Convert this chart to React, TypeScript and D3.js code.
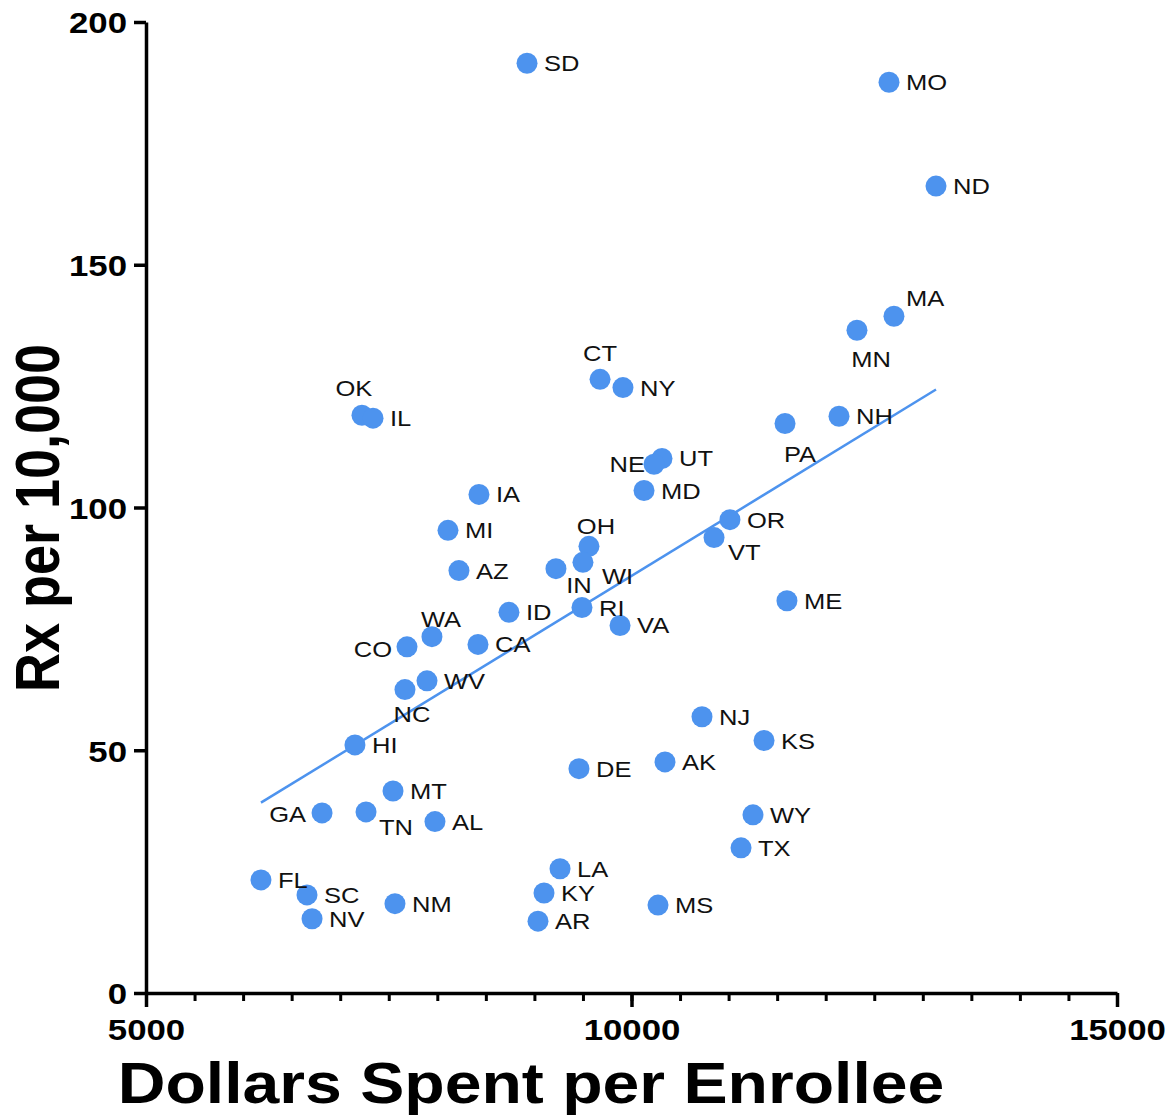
import * as d3 from 'd3'
import { useEffect, useRef } from 'react'

const width = 1167
const height = 1120

// values
const states = ['SD', 'MO', 'ND', 'MA', 'MN', 'OK', 'IL', 'CT', 'NY', 'NH', 'PA', 'UT', 'NE', 'MD', 'IA', 'MI', 'OR', 'VT', 'OH', 'WI', 'IN', 'AZ', 'ID', 'RI', 'VA', 'ME', 'WA', 'CO', 'CA', 'WV', 'NC', 'HI', 'NJ', 'KS', 'DE', 'AK', 'MT', 'GA', 'TN', 'AL', 'WY', 'TX', 'LA', 'FL', 'SC', 'KY', 'NM', 'MS', 'NV', 'AR']
const spending = [8924, 12652, 13136, 12703, 12322, 7224, 7338, 9676, 9912, 12137, 11581, 10314, 10232, 10129, 8429, 8110, 11014, 10850, 9562, 9500, 9222, 8223, 8738, 9490, 9882, 11601, 7945, 7688, 8419, 7894, 7667, 7152, 10726, 11365, 9459, 10345, 7544, 6813, 7266, 7976, 11251, 11128, 9264, 6184, 6658, 9099, 7564, 10273, 6710, 9037]
const rxRate = [191.5, 187.6, 166.2, 139.4, 136.5, 119.0, 118.4, 126.4, 124.7, 118.8, 117.3, 110.1, 108.9, 103.5, 102.7, 95.3, 97.5, 93.8, 92.0, 88.7, 87.4, 87.0, 78.4, 79.4, 75.7, 80.8, 73.4, 71.3, 71.8, 64.3, 62.5, 51.1, 56.9, 52.0, 46.2, 47.6, 41.6, 37.1, 37.3, 35.3, 36.7, 29.9, 25.6, 23.3, 20.2, 20.6, 18.4, 18.1, 15.3, 14.8]

// fitted line end points
const fitSpending = [6184, 13136]
const fitRx = [39.2, 124.3]

const xTicks = [5000, 10000, 15000]
const yTicks = [0, 50, 100, 150, 200]

// label placement: [dx, dy, anchor]; default is to the right
const labelPlacement: Record<string, [number, number, string]> = {
  OK: [-8, -19, 'middle'],
  CT: [0, -18, 'middle'],
  NE: [-9, 8, 'end'],
  MN: [14, 37, 'middle'],
  MA: [12, -10, 'start'],
  PA: [15, 38, 'middle'],
  OH: [7, -12, 'middle'],
  IN: [23, 24, 'middle'],
  WI: [19, 22, 'start'],
  VT: [14, 22, 'start'],
  WA: [9, -10, 'middle'],
  CO: [-15, 10, 'end'],
  NC: [7, 32, 'middle'],
  GA: [-16, 9, 'end'],
  TN: [13, 23, 'start'],
}

const stretch = 1.16
const font = '"Liberation Sans", Arial, Helvetica, sans-serif'
const blue = '#4d93ee'

export default function App() {
  const ref = useRef(null)

  useEffect(() => {
    const svg = d3.select(ref.current)
    svg.selectAll('*').remove()

    const x = d3.scaleLinear([5000, 15000], [146, 1117])
    const y = d3.scaleLinear([0, 200], [993, 22])

    // minor x ticks
    svg
      .append('g')
      .attr('transform', `translate(0,${y(0)})`)
      .call(
        d3
          .axisBottom(x)
          .tickValues(d3.range(5000, 15001, 500))
          .tickSize(8)
          .tickFormat(() => '')
      )
      .call(g => g.select('.domain').remove())
      .call(g => g.selectAll('.tick line').attr('stroke', '#000').attr('stroke-width', 3))

    // x axis
    svg
      .append('g')
      .attr('transform', `translate(0,${y(0)})`)
      .call(d3.axisBottom(x).tickValues(xTicks).tickSize(14).tickSizeOuter(0).tickFormat(d3.format('d')))
      .call(g => g.select('.domain').attr('stroke', '#000').attr('stroke-width', 3.5))
      .call(g => g.selectAll('.tick line').attr('stroke', '#000').attr('stroke-width', 3.5))
      .call(g =>
        g
          .selectAll('.tick text')
          .attr('y', 0)
          .attr('dy', null)
          .attr('transform', `translate(0,47) scale(${stretch},1)`)
          .attr('fill', '#000')
          .style('font', `bold 30px ${font}`)
      )

    // y axis
    svg
      .append('g')
      .attr('transform', `translate(${x(5000)},0)`)
      .call(d3.axisLeft(y).tickValues(yTicks).tickSize(12).tickSizeOuter(0))
      .call(g => g.select('.domain').attr('stroke', '#000').attr('stroke-width', 3.5))
      .call(g => g.selectAll('.tick line').attr('stroke', '#000').attr('stroke-width', 3.5))
      .call(g =>
        g
          .selectAll('.tick text')
          .attr('x', 0)
          .attr('dy', '0.36em')
          .attr('transform', `translate(-19,0) scale(${stretch},1)`)
          .attr('fill', '#000')
          .style('font', `bold 30px ${font}`)
      )

    // axis titles
    svg
      .append('text')
      .attr('transform', `translate(531,1103) scale(${stretch},1)`)
      .attr('text-anchor', 'middle')
      .style('font', `bold 57px ${font}`)
      .text('Dollars Spent per Enrollee')

    svg
      .append('text')
      .attr('transform', `translate(59,518) scale(${stretch},1) rotate(-90)`)
      .attr('text-anchor', 'middle')
      .style('font', `bold 54px ${font}`)
      .text('Rx per 10,000')

    // fitted line
    const line = d3
      .line<number>()
      .x(i => x(fitSpending[i]))
      .y(i => y(fitRx[i]))
    svg
      .append('path')
      .attr('fill', 'none')
      .attr('stroke', blue)
      .attr('stroke-width', 2.5)
      .attr('d', line([0, 1]))

    const idx = d3.range(states.length)

    // points
    svg
      .append('g')
      .selectAll('circle')
      .data(idx)
      .join('circle')
      .attr('cx', i => x(spending[i]))
      .attr('cy', i => y(rxRate[i]))
      .attr('r', 10.5)
      .attr('fill', blue)

    // labels
    svg
      .append('g')
      .selectAll('text')
      .data(idx)
      .join('text')
      .attr('transform', i => {
        const [dx, dy] = labelPlacement[states[i]] ?? [17, 8]
        return `translate(${x(spending[i]) + dx},${y(rxRate[i]) + dy}) scale(${stretch},1)`
      })
      .attr('text-anchor', i => (labelPlacement[states[i]] ?? [0, 0, 'start'])[2])
      .attr('fill', '#111')
      .style('font', `22px ${font}`)
      .text(i => states[i])
  }, [])

  return (
    <svg
      ref={ref}
      width={width}
      height={height}
      viewBox={`0 0 ${width} ${height}`}
      style={{ position: 'absolute', left: 0, top: 0, background: '#fff' }}
    ></svg>
  )
}
